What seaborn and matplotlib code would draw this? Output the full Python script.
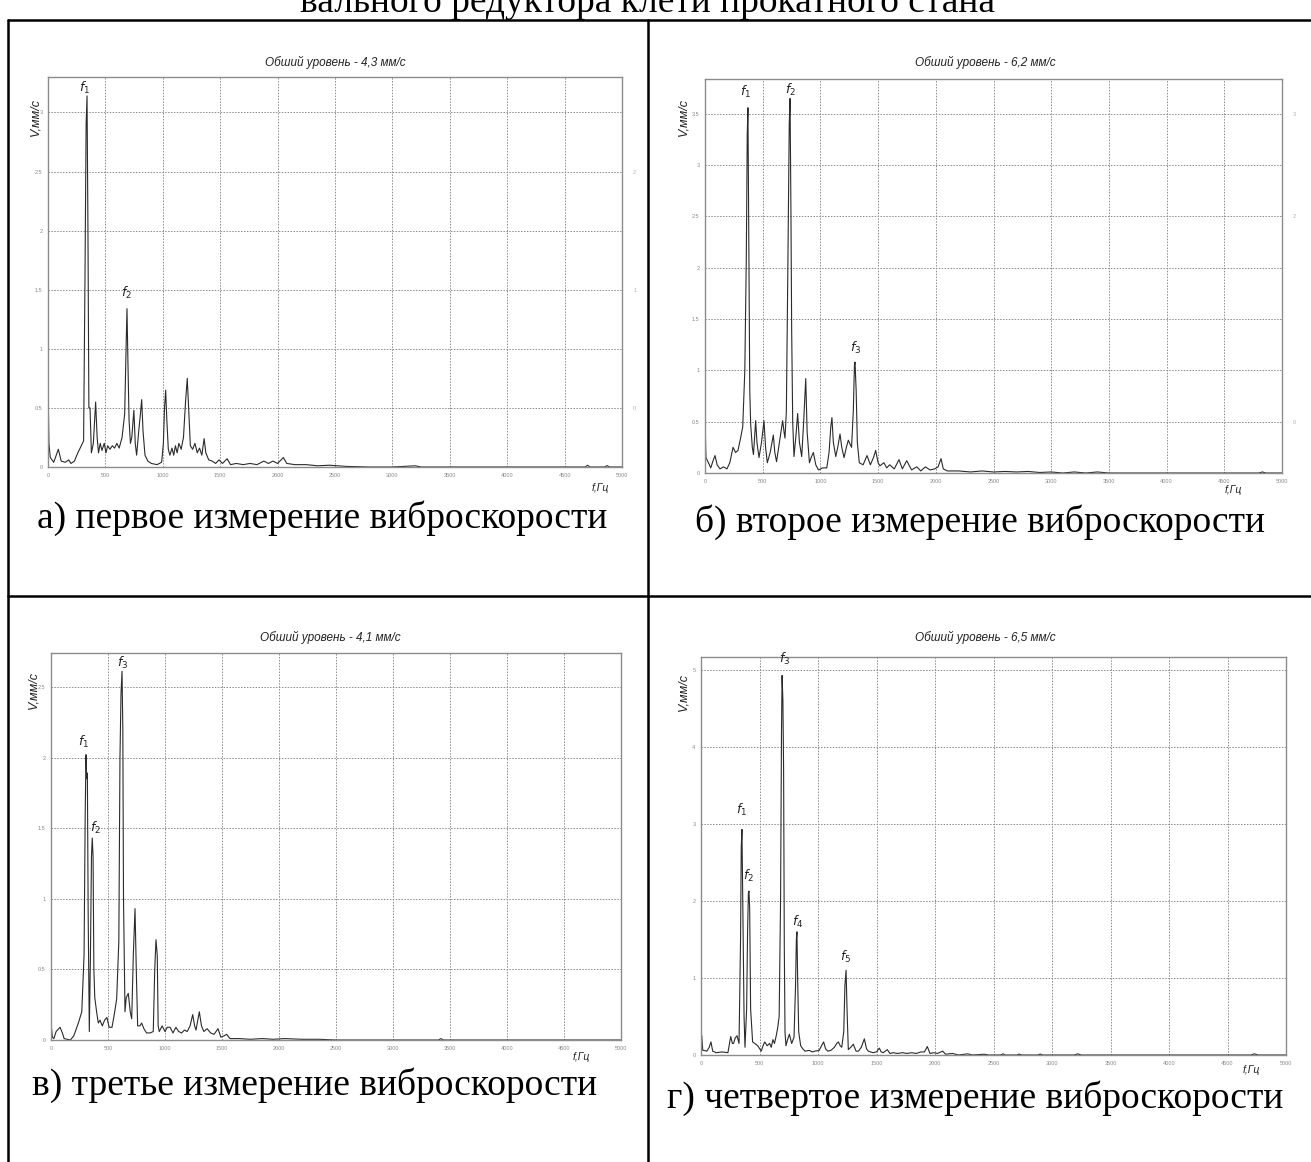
import matplotlib
matplotlib.use("Agg")
import matplotlib.pyplot as plt
from matplotlib.lines import Line2D
import numpy as np
import pandas as pd
import seaborn as sns

# spectrum a) - first measurement (Hz, mm/s)
freq_a = [0, 8, 20, 50, 90, 115, 150, 180, 200, 230, 260, 290, 310, 322, 332, 340, 348, 356,
          366, 378, 395, 415, 428, 440, 455, 470, 490, 505, 520, 540, 560, 580, 600, 620, 645,
          668, 680, 688, 696, 706, 718, 730, 748, 760, 772, 790, 805, 816, 828, 845, 870, 900,
          950, 990, 1005, 1015, 1025, 1035, 1048, 1062, 1080, 1095, 1110, 1125, 1140, 1160,
          1180, 1198, 1213, 1225, 1240, 1260, 1280, 1300, 1320, 1340, 1360, 1375, 1400, 1430,
          1460, 1490, 1520, 1560, 1590, 1640, 1700, 1760, 1820, 1880, 1920, 1960, 2000, 2050,
          2080, 2150, 2250, 2350, 2450, 2600, 2800, 3000, 3200, 3250, 4000, 4680, 4700, 4720,
          4850, 4870, 4890, 5000]
amp_a = [0.72, 0.2, 0.08, 0.04, 0.15, 0.05, 0.04, 0.06, 0.03, 0.05, 0.12, 0.18, 0.22, 1.58,
         2.9, 3.14, 2.0, 0.5, 0.5, 0.12, 0.2, 0.55, 0.25, 0.12, 0.2, 0.14, 0.2, 0.12, 0.18, 0.15,
         0.18, 0.16, 0.2, 0.16, 0.25, 0.45, 1.0, 1.34, 0.9, 0.4, 0.2, 0.25, 0.48, 0.2, 0.1, 0.3,
         0.45, 0.57, 0.3, 0.1, 0.05, 0.03, 0.02, 0.04, 0.2, 0.5, 0.65, 0.4, 0.15, 0.1, 0.16, 0.1,
         0.18, 0.12, 0.2, 0.15, 0.25, 0.55, 0.75, 0.5, 0.18, 0.15, 0.2, 0.12, 0.16, 0.1, 0.24,
         0.12, 0.06, 0.05, 0.03, 0.06, 0.03, 0.07, 0.02, 0.03, 0.02, 0.03, 0.02, 0.05, 0.03, 0.05,
         0.03, 0.08, 0.03, 0.02, 0.02, 0.01, 0.015, 0.005, 0.0, 0.0, 0.01, 0.0, 0.0, 0.0, 0.015,
         0.0, 0.0, 0.012, 0.0, 0.0]

# spectrum б) - second measurement
freq_b = [0, 8, 30, 50, 70, 87, 105, 130, 160, 190, 215, 243, 265, 286, 310, 327, 345, 358, 366,
          372, 380, 388, 396, 410, 420, 439, 450, 468, 490, 511, 525, 540, 565, 592, 605, 620,
          645, 673, 685, 693, 705, 718, 730, 737, 745, 751, 760, 771, 787, 803, 818, 838, 855,
          873, 885, 905, 920, 939, 960, 983, 1020, 1055, 1075, 1090, 1100, 1112, 1133, 1150,
          1170, 1185, 1205, 1225, 1242, 1270, 1285, 1295, 1300, 1310, 1320, 1337, 1370, 1404,
          1433, 1460, 1479, 1500, 1516, 1550, 1575, 1600, 1640, 1681, 1710, 1748, 1790, 1835,
          1870, 1910, 1950, 1990, 2020, 2045, 2065, 2100, 2200, 2300, 2400, 2500, 2600, 2700,
          2800, 2900, 3000, 3100, 3200, 3300, 3400, 3500, 4800, 4830, 4860, 5000]
amp_b = [0.56, 0.15, 0.1, 0.05, 0.12, 0.17, 0.08, 0.04, 0.06, 0.04, 0.1, 0.25, 0.2, 0.22, 0.35,
         0.45, 1.0, 2.1, 3.3, 3.56, 2.2, 0.8, 0.47, 0.25, 0.18, 0.51, 0.3, 0.15, 0.3, 0.51, 0.25,
         0.1, 0.2, 0.37, 0.2, 0.11, 0.3, 0.51, 0.4, 0.34, 0.6, 2.0, 3.4, 3.65, 2.5, 1.39, 0.5,
         0.16, 0.35, 0.58, 0.3, 0.16, 0.5, 0.92, 0.4, 0.1, 0.15, 0.2, 0.08, 0.03, 0.05, 0.05, 0.2,
         0.45, 0.54, 0.3, 0.16, 0.25, 0.38, 0.25, 0.15, 0.25, 0.32, 0.25, 0.6, 1.05, 1.08, 0.8,
         0.3, 0.1, 0.08, 0.17, 0.08, 0.15, 0.22, 0.1, 0.07, 0.1, 0.05, 0.08, 0.04, 0.13, 0.04,
         0.12, 0.03, 0.06, 0.02, 0.06, 0.03, 0.04, 0.06, 0.14, 0.04, 0.02, 0.02, 0.01, 0.02, 0.01,
         0.015, 0.01, 0.015, 0.005, 0.01, 0.0, 0.01, 0.0, 0.01, 0.0, 0.0, 0.01, 0.0, 0.0]

# spectrum в) - third measurement
freq_c = [0, 5, 12, 25, 45, 79, 100, 115, 170, 200, 240, 270, 290, 300, 307, 313, 319, 326, 336,
          346, 355, 362, 369, 376, 384, 400, 415, 430, 450, 470, 490, 510, 535, 555, 576, 595,
          605, 614, 623, 630, 636, 649, 660, 678, 695, 708, 722, 737, 748, 760, 780, 795, 815,
          838, 870, 897, 910, 921, 932, 940, 950, 975, 1000, 1020, 1045, 1070, 1096, 1120, 1146,
          1170, 1195, 1220, 1243, 1260, 1272, 1290, 1301, 1320, 1341, 1370, 1400, 1430, 1465,
          1490, 1520, 1540, 1570, 1650, 1750, 1850, 1950, 2050, 2200, 2350, 2500, 3400, 3420,
          3440, 5000]
amp_c = [0.07, 0.08, 0.02, 0.01, 0.06, 0.09, 0.05, 0.01, 0.0, 0.03, 0.12, 0.2, 0.6, 1.6, 2.02,
         1.85, 1.89, 0.9, 0.06, 0.6, 1.3, 1.43, 1.3, 0.5, 0.3, 0.2, 0.12, 0.14, 0.1, 0.14, 0.16,
         0.09, 0.09, 0.18, 0.29, 0.7, 2.0, 2.45, 2.61, 2.2, 1.0, 0.2, 0.3, 0.33, 0.2, 0.15, 0.6,
         0.93, 0.5, 0.1, 0.1, 0.12, 0.08, 0.05, 0.05, 0.06, 0.5, 0.71, 0.6, 0.1, 0.06, 0.1, 0.06,
         0.09, 0.09, 0.05, 0.09, 0.06, 0.05, 0.07, 0.06, 0.1, 0.18, 0.1, 0.07, 0.15, 0.2, 0.1,
         0.06, 0.08, 0.05, 0.04, 0.08, 0.02, 0.03, 0.04, 0.01, 0.01, 0.005, 0.01, 0.005, 0.01,
         0.005, 0.005, 0.0, 0.0, 0.01, 0.0, 0.0]

# spectrum г) - fourth measurement
freq_d = [0, 6, 15, 25, 50, 70, 85, 100, 130, 180, 230, 254, 268, 278, 292, 308, 325, 338, 344,
          350, 357, 368, 376, 390, 398, 405, 410, 416, 424, 441, 460, 485, 515, 530, 545, 565,
          587, 600, 615, 628, 643, 655, 668, 680, 688, 693, 700, 706, 712, 718, 726, 740, 755,
          775, 795, 808, 815, 820, 826, 835, 852, 870, 889, 926, 950, 974, 1010, 1030, 1048,
          1065, 1083, 1110, 1140, 1160, 1174, 1190, 1203, 1220, 1230, 1240, 1248, 1259, 1280,
          1302, 1325, 1345, 1370, 1396, 1415, 1430, 1470, 1500, 1524, 1540, 1558, 1592, 1615,
          1644, 1680, 1720, 1760, 1800, 1840, 1880, 1910, 1934, 1957, 1990, 2020, 2066, 2090,
          2150, 2200, 2280, 2320, 2420, 2460, 2560, 2580, 2600, 2700, 2720, 2740, 2880, 2900,
          2920, 3190, 3220, 3250, 4700, 4730, 4760, 5000]
amp_d = [0.2, 0.25, 0.06, 0.06, 0.05, 0.1, 0.17, 0.05, 0.03, 0.04, 0.03, 0.24, 0.15, 0.15, 0.22,
         0.25, 0.15, 1.5, 2.7, 2.93, 2.0, 0.5, 0.1, 0.6, 1.6, 2.1, 2.13, 1.9, 0.6, 0.17, 0.15,
         0.12, 0.05, 0.12, 0.17, 0.12, 0.15, 0.1, 0.2, 0.15, 0.25, 0.35, 0.5, 2.0, 4.2, 4.93, 4.6,
         3.7, 1.4, 0.3, 0.12, 0.2, 0.27, 0.15, 0.23, 0.9, 1.5, 1.6, 1.0, 0.3, 0.12, 0.08, 0.05,
         0.06, 0.04, 0.05, 0.06, 0.12, 0.17, 0.08, 0.05, 0.06, 0.1, 0.15, 0.17, 0.12, 0.1, 0.3,
         0.9, 1.1, 0.6, 0.07, 0.1, 0.14, 0.05, 0.05, 0.1, 0.21, 0.08, 0.05, 0.03, 0.04, 0.09,
         0.04, 0.03, 0.07, 0.02, 0.03, 0.02, 0.03, 0.02, 0.03, 0.02, 0.04, 0.04, 0.11, 0.02, 0.03,
         0.02, 0.05, 0.01, 0.02, 0.0, 0.015, 0.0, 0.01, 0.0, 0.0, 0.015, 0.0, 0.0, 0.012, 0.0,
         0.0, 0.012, 0.0, 0.0, 0.015, 0.0, 0.0, 0.015, 0.0, 0.0]

titles = ["Обший уровень - 4,3 мм/с", "Обший уровень - 6,2 мм/с",
          "Обший уровень - 4,1 мм/с", "Обший уровень - 6,5 мм/с"]
captions = ["а) первое измерение виброскорости", "б) второе измерение виброскорости",
            "в) третье измерение виброскорости", "г) четвертое измерение виброскорости"]
y_tops = [3.3, 3.84, 2.74, 5.17]
y_steps = [0.5, 0.5, 0.5, 1.0]
x_ticks = list(range(0, 5001, 500))

# peak labels: (text, freq, level)
marks_a = [("1", 322, 3.21), ("2", 688, 1.47)]
marks_b = [("1", 355, 3.71), ("2", 737, 3.73), ("3", 1306, 1.22)]
marks_c = [("1", 289, 2.11), ("2", 392, 1.50), ("3", 632, 2.67)]
marks_d = [("1", 350, 3.18), ("2", 408, 2.32), ("3", 718, 5.14), ("4", 829, 1.73), ("5", 1239, 1.27)]

W, H = 1311, 1162

sns.set_style("white")
plt.rcParams["font.family"] = ["Liberation Sans", "DejaVu Sans"]

fig = plt.figure(figsize=(W / 100, H / 100), dpi=100)


def px_rect(l, t, r, b):
    return [l / W, 1 - b / H, (r - l) / W, (b - t) / H]


def fx(x):
    return x / W


def fy(y):
    return 1 - y / H


panels = [
    dict(freq=freq_a, amp=amp_a, box=(48, 77, 622, 467), marks=marks_a,
         title=(335, 62), ylab=(35, 117), flab=(600, 488), cap=(322, 518), right=(-0.5, [0, 1, 2])),
    dict(freq=freq_b, amp=amp_b, box=(705, 79, 1282, 473), marks=marks_b,
         title=(985, 62), ylab=(683, 117), flab=(1233, 490), cap=(980, 522), right=(-0.5, [0, 2, 3])),
    dict(freq=freq_c, amp=amp_c, box=(51, 653, 621, 1040), marks=marks_c,
         title=(330, 637), ylab=(33, 690), flab=(581, 1057), cap=(315, 1085), right=None),
    dict(freq=freq_d, amp=amp_d, box=(701, 657, 1286, 1055), marks=marks_d,
         title=(985, 637), ylab=(683, 692), flab=(1251, 1070), cap=(975, 1098), right=None),
]

for i, p in enumerate(panels):
    ax = fig.add_axes(px_rect(*p["box"]))
    df = pd.DataFrame({"f": p["freq"], "v": p["amp"]})
    sns.lineplot(data=df, x="f", y="v", ax=ax, color="#2b2b2b", lw=0.8, estimator=None, sort=False)
    ax.set_xlim(0, 5000)
    ax.set_ylim(0, y_tops[i])
    ax.set_xticks(x_ticks)
    yt = np.arange(0, y_tops[i], y_steps[i])
    ax.set_yticks(yt)
    ax.set_yticklabels([f"{v:g}" for v in yt])
    ax.grid(True, ls=(0, (1.5, 1.5)), color="#8a8a8a", lw=0.7)
    ax.tick_params(labelsize=4, colors="#8a8a8a", length=0, pad=4)
    for s in ax.spines.values():
        s.set_color("#8c8c8c")
        s.set_linewidth(1.0)
    ax.set_xlabel("")
    ax.set_ylabel("")
    for lab, f, lvl in p["marks"]:
        ax.text(f, lvl, rf"$f_{{{lab}}}$", ha="center", va="center", fontsize=9, color="#222")
    if p["right"] is not None:
        off, ticks = p["right"]
        ax2 = ax.twinx()
        ax2.set_ylim(off, y_tops[i] + off)
        ax2.set_yticks(ticks)
        ax2.tick_params(labelsize=4, colors="#b0b0b0", length=0, pad=8)
        for s in ax2.spines.values():
            s.set_visible(False)
        ax2.set_ylabel("")

    fig.text(fx(p["title"][0]), fy(p["title"][1]), titles[i], ha="center", va="center",
             fontsize=8.5, style="italic", color="#222")
    fig.text(fx(p["ylab"][0]), fy(p["ylab"][1]), "V,мм/с", ha="center", va="center",
             rotation=90, fontsize=9, style="italic", color="#222")
    fig.text(fx(p["flab"][0]), fy(p["flab"][1]), "f,Гц", ha="center", va="center",
             fontsize=7.5, style="italic", color="#222")
    fig.text(fx(p["cap"][0]), fy(p["cap"][1]), captions[i], ha="center", va="center",
             fontsize=27, family="Liberation Serif", color="black")

# document table frame
frame = [((8, 20), (1311, 20)), ((8, 20), (8, 1162)), ((648, 20), (648, 1162)),
         ((8, 596), (1311, 596))]
for (x0, y0), (x1, y1) in frame:
    fig.add_artist(Line2D([fx(x0), fx(x1)], [fy(y0), fy(y1)], color="black", lw=1.8,
                          transform=fig.transFigure))

# heading line of the page, cut by the top edge as in the scan
fig.text(fx(648), fy(12), "вального редуктора клети прокатного стана", ha="center",
         va="baseline", fontsize=27, family="Liberation Serif", color="black")

fig.savefig("out.png", dpi=100, facecolor="white")
